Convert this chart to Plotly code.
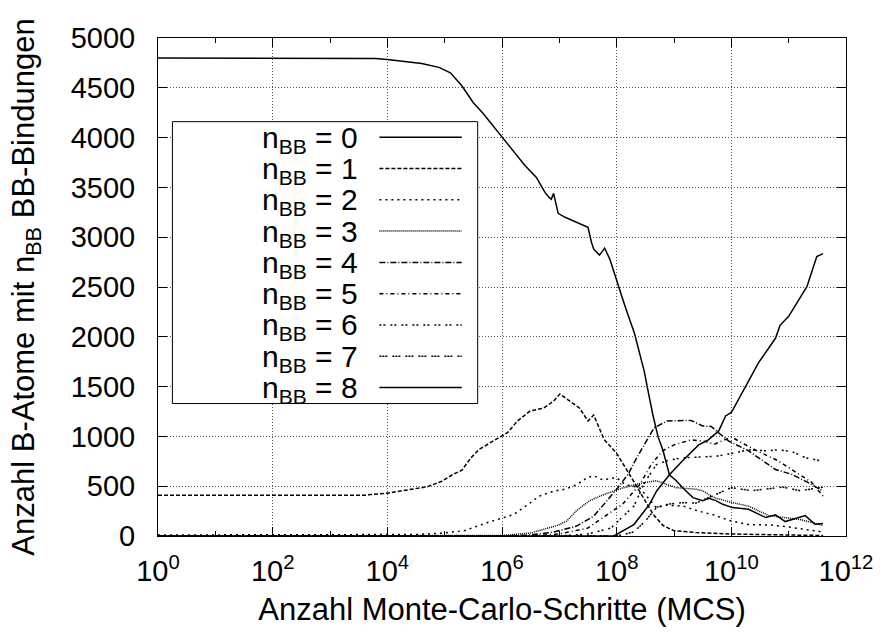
import plotly.graph_objects as go

# ---------------- data (log10 of MCS, number of B atoms) ----------------
n0_logx = [0, 1, 2, 3, 3.8, 4.0, 4.3, 4.6, 4.9, 5.1, 5.3, 5.5, 5.66, 5.8, 6.0, 6.2, 6.4, 6.6, 6.75,
           6.82, 6.86, 6.9, 6.98, 7.1, 7.3, 7.45, 7.5, 7.56, 7.6, 7.7, 7.79, 7.88, 8.0, 8.15, 8.31,
           8.48, 8.55, 8.63, 8.72, 8.81, 8.92, 9.04, 9.15, 9.33, 9.5, 9.61, 9.73, 9.85, 10.02, 10.3,
           10.6, 10.77, 10.94, 11.29, 11.46, 11.6]
n0_val = [4800, 4800, 4800, 4800, 4795, 4785, 4765, 4745, 4705, 4650, 4520, 4350, 4250, 4150, 4000,
          3860, 3720, 3600, 3450, 3400, 3380, 3440, 3240, 3200, 3150, 3110, 3100, 2950, 2880, 2820,
          2890, 2780, 2560, 2300, 2035, 1655, 1450, 1220, 1000, 855, 615, 555, 485, 385, 355, 378,
          355, 318, 285, 268, 185, 212, 145, 205, 118, 125]

n1_logx = [0, 3.6, 4.0, 4.3, 4.7, 4.95, 5.15, 5.3, 5.45, 5.6, 5.8, 5.95, 6.1, 6.27, 6.49, 6.73, 6.9,
           7.01, 7.18, 7.35, 7.5, 7.6, 7.78, 8.0, 8.29, 8.47, 8.64, 8.81, 8.99, 9.38, 10.0, 11.0, 11.6]
n1_val = [410, 410, 430, 460, 495, 550, 620, 660, 780, 870, 935, 985, 1040, 1155, 1255, 1285, 1355,
          1425, 1355, 1285, 1155, 1215, 970, 830, 555, 385, 215, 105, 55, 35, 20, 10, 5]

n2_logx = [0, 4.0, 4.5, 5.0, 5.35, 5.75, 6.2, 6.45, 6.65, 6.9, 7.1, 7.3, 7.5, 7.6, 7.75, 8.0, 8.15,
           8.4, 8.57, 8.69, 8.86, 9.16, 9.4, 9.7, 10.0, 10.3, 10.7, 11.0, 11.6]
n2_val = [10, 10, 15, 30, 55, 135, 215, 315, 400, 450, 470, 515, 590, 605, 565, 585, 515, 485, 365,
          285, 310, 300, 255, 210, 150, 115, 110, 90, 40]

n3_logx = [0, 5.5, 6.0, 6.5, 6.96, 7.13, 7.3, 7.53, 7.77, 8.12, 8.47, 8.69, 9.04, 9.38, 9.5, 9.61,
           9.73, 10.02, 10.3, 10.65, 10.9, 11.2, 11.6]
n3_val = [0, 0, 5, 30, 105, 150, 255, 355, 415, 485, 535, 555, 485, 470, 455, 415, 380, 335, 300,
          205, 185, 165, 105]

n4_logx = [0, 6.0, 6.5, 6.9, 7.3, 7.6, 7.75, 8.0, 8.2, 8.35, 8.55, 8.65, 8.88, 9.1, 9.3, 9.5, 9.65,
           9.78, 9.95, 10.3, 10.77, 11.06, 11.4, 11.6]
n4_val = [0, 0, 10, 40, 100, 200, 300, 470, 620, 785, 985, 1085, 1155, 1160, 1160, 1105, 1100,
          1035, 955, 855, 668, 618, 518, 450]

n5_logx = [0, 6.5, 7.0, 7.5, 7.8, 8.1, 8.4, 8.6, 8.8, 9.0, 9.3, 9.55, 9.7, 9.85, 10.0, 10.2, 10.5,
           10.8, 11.1, 11.4, 11.6]
n5_val = [0, 0, 20, 80, 200, 318, 515, 715, 855, 915, 965, 950, 920, 960, 995, 930, 840, 760, 650,
          540, 400]

n6_logx = [0, 7.0, 7.5, 7.9, 8.3, 8.5, 8.69, 8.9, 9.15, 9.5, 9.73, 10.02, 10.3, 10.6, 10.8, 11.05,
           11.3, 11.6]
n6_val = [0, 0, 20, 80, 300, 550, 715, 760, 785, 790, 800, 830, 865, 855, 865, 850, 785, 750]

n7_logx = [0, 8.0, 8.3, 8.5, 8.7, 8.9, 9.16, 9.38, 9.6, 9.8, 10.0, 10.35, 10.6, 10.9, 11.2, 11.6]
n7_val = [0, 0, 40, 150, 290, 320, 335, 330, 385, 435, 485, 455, 470, 490, 455, 490]

n8_logx = [0, 7.95, 8.3, 8.57, 8.7, 8.92, 9.15, 9.43, 9.6, 9.78, 9.9, 10.0, 10.3, 10.47, 10.77,
           10.85, 11.0, 11.32, 11.49, 11.6]
n8_val = [0, 0, 115, 315, 455, 615, 755, 915, 965, 1055, 1205, 1240, 1555, 1735, 1985, 2115, 2205,
          2505, 2805, 2835]

series_names = ["n<sub>BB</sub> = 0", "n<sub>BB</sub> = 1", "n<sub>BB</sub> = 2",
                "n<sub>BB</sub> = 3", "n<sub>BB</sub> = 4", "n<sub>BB</sub> = 5",
                "n<sub>BB</sub> = 6", "n<sub>BB</sub> = 7", "n<sub>BB</sub> = 8"]

x_tick_exps = [0, 2, 4, 6, 8, 10, 12]
x_minor_exps = [1, 3, 5, 7, 9, 11]
y_ticks = [0, 500, 1000, 1500, 2000, 2500, 3000, 3500, 4000, 4500, 5000]

# ---------------- styles ----------------
dashes = ["solid", "4px,2px", "2px,4px", "1px,1px", "6px,2px,1px,2px",
          "4px,3px,1px,3px", "2px,2px,2px,5px", "2px,1px,2px,1px,2px,5px", "solid"]
FONT = "Liberation Sans, Arial, Helvetica, sans-serif"

all_series = [(n0_logx, n0_val), (n1_logx, n1_val), (n2_logx, n2_val), (n3_logx, n3_val),
              (n4_logx, n4_val), (n5_logx, n5_val), (n6_logx, n6_val), (n7_logx, n7_val),
              (n8_logx, n8_val)]

fig = go.Figure()
for (lx, vals), name, dash in zip(all_series, series_names, dashes):
    fig.add_trace(go.Scatter(
        x=[10 ** e for e in lx], y=vals, mode="lines", name=name,
        line=dict(color="black", width=1.5, dash=dash), showlegend=False))

W, H = 885, 632
ML, MR, MT, MB = 158, 34, 38, 94
PW, PH = W - ML - MR, H - MT - MB


def px_x(X):
    return (X - ML) / PW


def px_y(Y):
    return (H - MB - Y) / PH


# manual gnuplot-style legend (text, then line sample)
shapes = [dict(type="rect", xref="paper", yref="paper",
               x0=px_x(172.5), x1=px_x(480), y0=px_y(405), y1=px_y(122),
               line=dict(color="black", width=1), fillcolor="white", layer="above")]
annotations = []
row0, step = 137.7, 31.4
for i, (name, dash) in enumerate(zip(series_names, dashes)):
    yy = row0 + i * step
    shapes.append(dict(type="line", xref="paper", yref="paper",
                       x0=px_x(381), x1=px_x(464), y0=px_y(yy), y1=px_y(yy),
                       line=dict(color="black", width=1.5, dash=dash), layer="above"))
    annotations.append(dict(xref="paper", yref="paper", x=px_x(361), y=px_y(yy + 2),
                            xanchor="right", yanchor="middle", text=name, showarrow=False,
                            font=dict(family=FONT, size=30, color="black")))

fig.update_layout(
    width=W, height=H, margin=dict(l=ML, r=MR, t=MT, b=MB, pad=0),
    paper_bgcolor="white", plot_bgcolor="white",
    font=dict(family=FONT, size=29, color="black"),
    shapes=shapes, annotations=annotations, showlegend=False,
)
fig.update_xaxes(
    type="log", range=[0, 12],
    tickvals=[10 ** e for e in x_tick_exps],
    ticktext=["10<sup>%d</sup>" % e for e in x_tick_exps],
    ticks="inside", ticklen=9, tickcolor="black", tickwidth=1,
    minor=dict(tickvals=[10 ** e for e in x_minor_exps], ticks="inside", ticklen=5,
               tickcolor="black", showgrid=False),
    showline=True, linecolor="black", linewidth=1, mirror="ticks",
    showgrid=True, gridcolor="#555", griddash="1px,2px", gridwidth=1,
    tickfont=dict(size=29), ticklabelstandoff=9,
    title=dict(text="Anzahl Monte-Carlo-Schritte (MCS)", font=dict(size=31), standoff=12),
    zeroline=False,
)
fig.update_yaxes(
    range=[0, 5000], tickvals=y_ticks,
    ticks="inside", ticklen=9, tickcolor="black", tickwidth=1,
    showline=True, linecolor="black", linewidth=1, mirror="ticks",
    showgrid=True, gridcolor="#555", griddash="1px,2px", gridwidth=1,
    tickfont=dict(size=29), ticklabelstandoff=16,
    title=dict(text="Anzahl B-Atome mit n<sub>BB</sub> BB-Bindungen", font=dict(size=31), standoff=26),
    zeroline=False,
)

fig.write_html("out.html")
